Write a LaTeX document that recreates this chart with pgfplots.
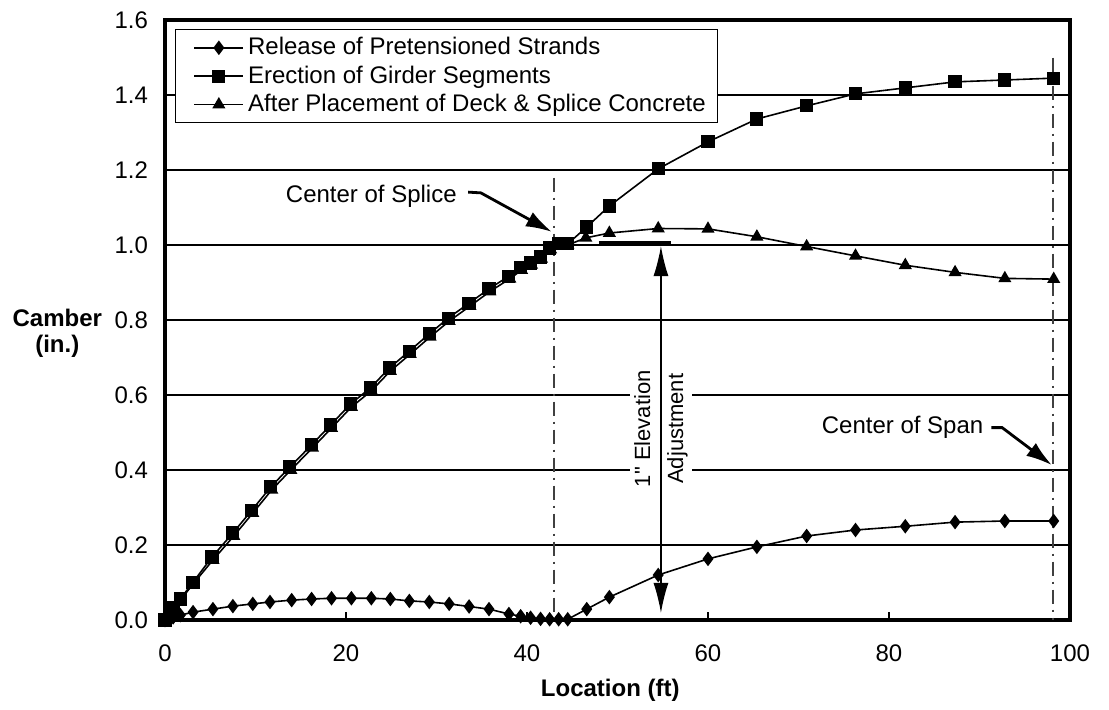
\documentclass[border=0pt]{standalone}
\usepackage{fontspec}
\setmainfont{Liberation Sans}
\newfontfamily\plainfont{Liberation Sans}
\usepackage{pgfplots}
\pgfplotsset{compat=1.18}
\usetikzlibrary{arrows.meta,calc}

\begin{document}
\begin{tikzpicture}
\begin{axis}[
  scale only axis, width=452.5pt, height=300pt,
  xmin=0, xmax=100, ymin=0, ymax=1.6,
  xtick={0,20,40,60,80,100},
  ytick={0,0.2,0.4,0.6,0.8,1.0,1.2,1.4,1.6},
  /pgf/number format/assume math mode=true,
  yticklabel style={/pgf/number format/fixed, /pgf/number format/fixed zerofill, /pgf/number format/precision=1, xshift=-5pt},
  tick label style={font=\fontsize{12}{14}\selectfont},
  xticklabel style={yshift=-9pt},
  ymajorgrids, grid style={black, line width=0.65pt},
  axis line style={line width=1.7pt},
  tick align=inside, xtick pos=left,
  major tick length=4pt,
  xtick style={black, line width=0.8pt},
  ytick style={draw=none},
  xlabel={Location (ft)},
  xlabel style={at={(axis description cs:0.492,-0.117)}, anchor=center, font=\bfseries\fontsize{12}{14}\selectfont},
  ylabel={Camber\\(in.)},
  ylabel style={rotate=-90, at={(axis description cs:-0.119,0.478)}, anchor=center, align=center, font=\bfseries\fontsize{12}{13}\selectfont},
  legend style={at={(0.011,0.985)}, anchor=north west, draw=black, line width=0.6pt, fill=white,
    font=\fontsize{12}{14}\selectfont, inner xsep=4pt, inner ysep=2pt, row sep=0pt},
  legend cell align=left,
  legend image code/.code={\path (0pt,0pt); \draw[mark repeat=2,mark phase=2] plot coordinates {(5pt,0pt)(17.25pt,0pt)(29.5pt,0pt)};},
]
\coordinate (O) at (rel axis cs:0,0);

% Release of Pretensioned Strands
\addplot[black, line width=0.8pt, mark=diamond*, mark size=3pt, mark options={solid}] coordinates {
(0,0) (0.9,0.007) (1.7,0.013) (3.1,0.021) (5.3,0.029) (7.5,0.037) (9.7,0.043) (11.6,0.048)
(14.0,0.053) (16.2,0.056) (18.4,0.058) (20.6,0.058) (22.8,0.058) (24.9,0.056) (27.0,0.051)
(29.2,0.048) (31.4,0.043) (33.6,0.036) (35.8,0.029) (38.0,0.016) (39.3,0.010) (40.4,0.006)
(41.5,0.003) (42.5,0.002) (43.5,0.002) (44.5,0.002) (46.6,0.029) (49.1,0.061) (54.5,0.120)
(60.0,0.163) (65.4,0.195) (70.9,0.224) (76.3,0.240) (81.8,0.250) (87.3,0.261) (92.8,0.264) (98.2,0.264)
};
\addlegendentry{Release of Pretensioned Strands}

% Erection of Girder Segments
\addplot[black, line width=0.8pt, mark=square*, mark size=2.9pt, mark options={solid}] coordinates {
(0,0) (0.9,0.032) (1.7,0.056) (3.1,0.101) (5.2,0.168) (7.5,0.232) (9.6,0.293) (11.7,0.355)
(13.8,0.408) (16.2,0.467) (18.3,0.520) (20.5,0.576) (22.7,0.619) (24.8,0.672) (27.0,0.717)
(29.2,0.763) (31.3,0.805) (33.6,0.845) (35.8,0.883) (38.0,0.917) (39.3,0.939) (40.4,0.952)
(41.5,0.968) (42.5,0.992) (43.5,1.003) (44.5,1.003) (46.6,1.048) (49.1,1.104) (54.5,1.203)
(60.0,1.275) (65.4,1.336) (70.9,1.371) (76.3,1.403) (81.8,1.419) (87.3,1.435) (92.8,1.440) (98.2,1.445)
};
\addlegendentry{Erection of Girder Segments}

% After Placement of Deck & Splice Concrete
\addplot[black, line width=0.8pt, mark=triangle*, mark size=3pt, mark options={solid}] coordinates {
(0,0) (0.9,0.030) (1.7,0.053) (3.1,0.096) (5.3,0.160) (7.6,0.224) (9.7,0.285) (11.8,0.347)
(13.9,0.400) (16.3,0.459) (18.4,0.512) (20.6,0.568) (22.8,0.611) (24.9,0.664) (27.1,0.709)
(29.3,0.755) (31.4,0.797) (33.7,0.837) (35.9,0.876) (38.1,0.910) (39.4,0.933) (40.5,0.947)
(41.6,0.963) (42.6,0.988) (43.5,1.000) (44.5,1.000) (46.5,1.019) (49.1,1.032) (54.5,1.044)
(60.0,1.043) (65.4,1.022) (70.9,0.996) (76.3,0.971) (81.8,0.946) (87.3,0.927) (92.8,0.911) (98.2,0.909)
};
\addlegendentry{After Placement of Deck \& Splice Concrete}

% center lines
\draw[black!75, line width=0.7pt, dash pattern=on 7pt off 3pt on 1pt off 3pt] (axis cs:43,1.18) -- (axis cs:43,0);
\draw[black!75, line width=0.7pt, dash pattern=on 7pt off 3pt on 1pt off 3pt] (axis cs:98.1,1.5) -- (axis cs:98.1,0);

% Center of Splice
\node[font=\fontsize{12}{14}\selectfont] at (axis cs:22.8,1.131) {Center of Splice};
\draw[line width=1.4pt, -{Latex[length=13pt,width=8pt]}] (axis cs:33.5,1.141) -- (axis cs:34.9,1.139) -- (axis cs:42.75,1.035);

% Center of Span
\node[font=\fontsize{12}{14}\selectfont] at (axis cs:81.5,0.515) {Center of Span};
\draw[line width=1.4pt, -{Latex[length=13pt,width=8pt]}] (axis cs:91.3,0.513) -- (axis cs:92.5,0.513) -- (axis cs:98.0,0.413);

% 1" elevation adjustment
\node[rotate=90, fill=white, align=center, inner sep=2pt, font=\plainfont\fontsize{11}{16.5}\selectfont] at (axis cs:54.8,0.51) {1" Elevation\\Adjustment};
\draw[line width=2pt] (axis cs:47.95,1.006) -- (axis cs:55.9,1.006);
\draw[line width=0.6pt, {Latex[length=15pt,width=7.5pt]}-{Latex[length=15pt,width=7.5pt]}] (axis cs:54.8,0.997) -- (axis cs:54.8,0.019);
\end{axis}
\path ($(O)+(-82.5pt,-44.5pt)$) rectangle ($(O)+(472pt,310pt)$);
\end{tikzpicture}
\end{document}
